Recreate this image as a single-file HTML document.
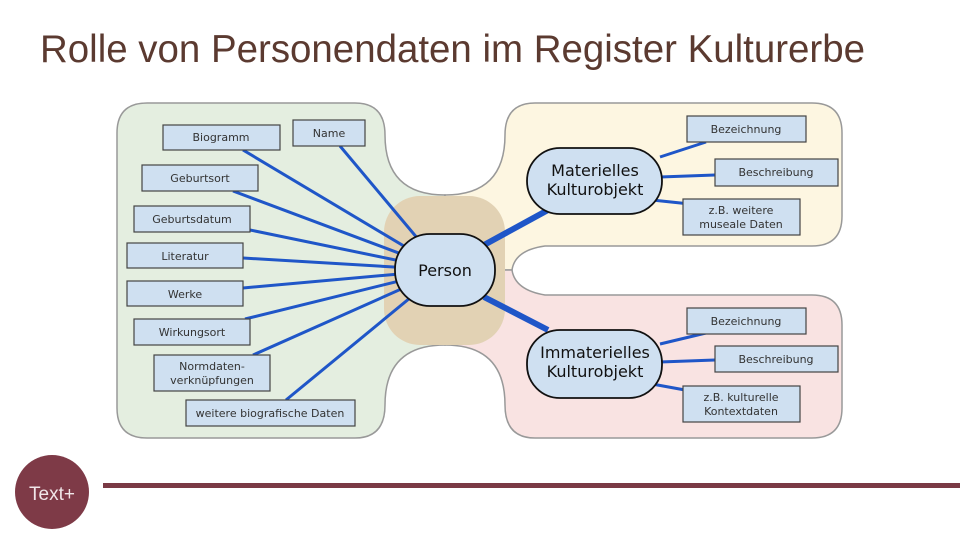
<!DOCTYPE html>
<html><head><meta charset="utf-8"><style>
body{margin:0;width:960px;height:540px;overflow:hidden;background:#fff;font-family:"Liberation Sans","DejaVu Sans",sans-serif}
</style></head><body>
<svg width="960" height="540" viewBox="0 0 960 540" xmlns="http://www.w3.org/2000/svg">
<text x="40" y="62" font-family="'Liberation Sans',sans-serif" font-size="39" textLength="825" lengthAdjust="spacingAndGlyphs" fill="#5b3a30">Rolle von Personendaten im Register Kulturerbe</text>
<g stroke="#999" stroke-width="1.5">
<path d="M147,103 H355 Q385,103 385,135 Q385,195 445,195 V345 Q385,345 385,405 Q385,438 355,438 H147 Q117,438 117,408 V133 Q117,103 147,103Z" fill="#e4eee0"/>
<path d="M535,103 H812 Q842,103 842,133 V216 Q842,246 812,246 H545 Q515,250 512,270 L445,270 V195 Q505,195 505,135 Q505,103 535,103Z" fill="#fdf6e1"/>
<path d="M512,270 Q515,290 545,295 H812 Q842,295 842,325 V408 Q842,438 812,438 H535 Q505,438 505,405 Q505,345 445,345 V270Z" fill="#f9e3e2"/>
</g>
<rect x="384" y="196" width="121" height="149" rx="36" fill="#e2d2b4"/>
<g stroke="#1f56c8" stroke-width="3">
<line x1="444" y1="270" x2="243" y2="150"/><line x1="444" y1="270" x2="340" y2="146"/>
<line x1="444" y1="270" x2="233" y2="191"/><line x1="444" y1="270" x2="250" y2="230"/>
<line x1="444" y1="270" x2="243" y2="258"/><line x1="444" y1="270" x2="243" y2="288"/>
<line x1="444" y1="270" x2="245" y2="319"/><line x1="444" y1="270" x2="253" y2="355"/>
<line x1="444" y1="270" x2="286" y2="400"/>
<line x1="660" y1="157" x2="706" y2="142"/><line x1="660" y1="177" x2="715" y2="175"/><line x1="652" y1="200" x2="690" y2="204"/>
<line x1="660" y1="344" x2="706" y2="333"/><line x1="660" y1="362" x2="715" y2="360"/><line x1="652" y1="384" x2="685" y2="390"/>
</g>
<g stroke="#1f56c8" stroke-width="6">
<line x1="484" y1="245" x2="548" y2="210"/><line x1="484" y1="297" x2="548" y2="330"/>
</g>
<g fill="#cfe0f1" stroke="#444" stroke-width="1.2">
<rect x="163" y="125" width="117" height="25"/><rect x="293" y="120" width="72" height="26"/>
<rect x="142" y="165" width="116" height="26"/><rect x="134" y="206" width="116" height="26"/>
<rect x="127" y="243" width="116" height="25"/><rect x="127" y="281" width="116" height="25"/>
<rect x="134" y="319" width="116" height="26"/><rect x="154" y="355" width="116" height="36"/>
<rect x="186" y="400" width="169" height="26"/>
<rect x="687" y="116" width="119" height="26"/><rect x="715" y="159" width="123" height="27"/><rect x="683" y="199" width="117" height="36"/>
<rect x="687" y="308" width="119" height="26"/><rect x="715" y="346" width="123" height="26"/><rect x="683" y="386" width="117" height="36"/>
</g>
<g fill="#cfe0f1" stroke="#111" stroke-width="1.8">
<rect x="395" y="234" width="100" height="72" rx="35"/>
<rect x="527" y="148" width="135" height="66" rx="33"/>
<rect x="527" y="330" width="135" height="68" rx="33"/>
</g>
<g font-size="11" fill="#333" text-anchor="middle" font-family="'DejaVu Sans',sans-serif">
<text x="221" y="141">Biogramm</text><text x="329" y="137">Name</text>
<text x="200" y="182">Geburtsort</text><text x="192" y="223">Geburtsdatum</text>
<text x="185" y="260">Literatur</text><text x="185" y="298">Werke</text>
<text x="192" y="336">Wirkungsort</text><text x="212" y="370">Normdaten-</text><text x="212" y="384">verknüpfungen</text>
<text x="270" y="417">weitere biografische Daten</text>
<text x="746" y="133">Bezeichnung</text><text x="776" y="176">Beschreibung</text>
<text x="741" y="214">z.B. weitere</text><text x="741" y="228">museale Daten</text>
<text x="746" y="325">Bezeichnung</text><text x="776" y="363">Beschreibung</text>
<text x="741" y="401">z.B. kulturelle</text><text x="741" y="415">Kontextdaten</text>
</g>
<g font-size="16" fill="#111" text-anchor="middle" font-family="'DejaVu Sans',sans-serif">
<text x="445" y="276">Person</text>
<text x="595" y="176">Materielles</text><text x="595" y="195">Kulturobjekt</text>
<text x="595" y="358">Immaterielles</text><text x="595" y="377">Kulturobjekt</text>
</g>
<rect x="103" y="483" width="857" height="5" fill="#7a3a45"/>
<circle cx="52" cy="492" r="37" fill="#7e3a47"/>
<text x="52" y="500" font-size="19" fill="#f0e6e8" text-anchor="middle">Text+</text>
</svg>
</body></html>
